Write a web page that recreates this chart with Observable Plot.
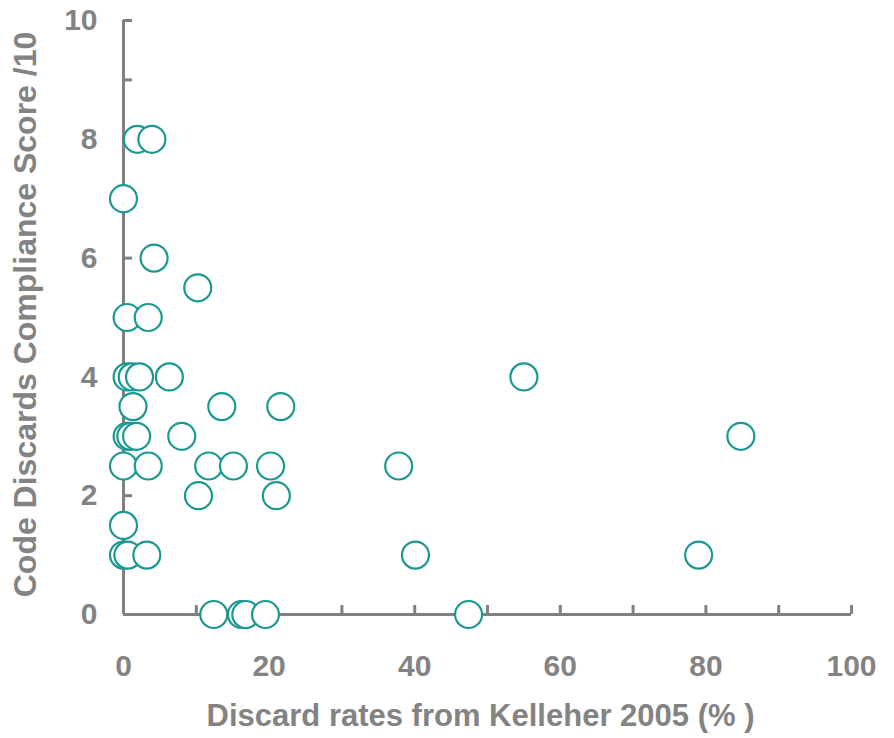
<!DOCTYPE html>
<html>
<head>
<meta charset="utf-8">
<script src="https://cdn.jsdelivr.net/npm/d3@7"></script>
<script src="https://cdn.jsdelivr.net/npm/@observablehq/plot@0.6"></script>
<style>
  html, body { margin: 0; padding: 0; background: #fff; }
</style>
</head>
<body>
<div id="chart"></div>
<script>
// Discard rate (%) vs. code compliance score, one entry per fishery
const discardRate = [
  1.9, 3.9,
  0,
  4.2,
  10.2,
  0.5, 3.4,
  0.5, 1.2, 2.2, 6.3, 55.0,
  1.3, 13.5, 21.6,
  0.5, 1.0, 1.8, 8.0, 84.8,
  0, 3.4, 11.7, 15.1, 20.2, 37.8,
  10.3, 21.0,
  0,
  0, 0.6, 3.2, 40.1, 79.0,
  12.4, 16.2, 16.8, 19.5, 47.4
];
const complianceScore = [
  8, 8,
  7,
  6,
  5.5,
  5, 5,
  4, 4, 4, 4, 4,
  3.5, 3.5, 3.5,
  3, 3, 3, 3, 3,
  2.5, 2.5, 2.5, 2.5, 2.5, 2.5,
  2, 2,
  1.5,
  1, 1, 1, 1, 1,
  0, 0, 0, 0, 0
];

const xTicks = [0, 10, 20, 30, 40, 50, 60, 70, 80, 90, 100];
const xTickLabels = [0, 20, 40, 60, 80, 100];
const yTicks = [0, 1, 2, 3, 4, 5, 6, 7, 8, 9, 10];
const yTickLabels = [0, 2, 4, 6, 8, 10];

const xTitle = "Discard rates from Kelleher 2005 (% )";
const yTitle = "Code Discards Compliance Score /10";

const points = discardRate.map((x, i) => ({x, y: complianceScore[i]}));

const axisGray = "#808080";
const textGray = "#838383";
const teal = "#1b9892";

const chart = Plot.plot({
  width: 894,
  height: 738,
  marginLeft: 123,
  marginRight: 43,
  marginTop: 20,
  marginBottom: 124,
  style: {
    fontFamily: "'Liberation Sans', Arial, Helvetica, sans-serif",
    fontSize: "30px",
    fontWeight: "bold",
    color: textGray,
    background: "#fff"
  },
  x: {domain: [0, 100]},
  y: {domain: [0, 10]},
  marks: [
    // axis lines
    Plot.ruleX([0], {stroke: axisGray, strokeWidth: 3}),
    Plot.ruleY([0], {stroke: axisGray, strokeWidth: 3}),
    // inward tick marks
    Plot.ruleX(xTicks, {x: d => d, y1: 0, y2: 0, insetTop: -9, stroke: axisGray, strokeWidth: 3}),
    Plot.ruleY(yTicks, {y: d => d, x1: 0, x2: 0, insetRight: -9, stroke: axisGray, strokeWidth: 3}),
    // tick labels
    Plot.axisX({ticks: xTickLabels, tickSize: 0, tickPadding: 40, label: null}),
    Plot.axisY({ticks: yTickLabels, tickSize: 0, tickPadding: 26, label: null}),
    // axis titles
    Plot.text([xTitle], {
      frameAnchor: "bottom", textAnchor: "middle", lineAnchor: "middle",
      text: d => d, dy: 102, dx: -7, fontSize: 31, fill: textGray
    }),
    Plot.text([yTitle], {
      frameAnchor: "left", textAnchor: "middle", lineAnchor: "middle",
      text: d => d, rotate: -90, dx: -98, dy: -3, fontSize: 32, fill: textGray
    }),
    // data points
    Plot.dot(points, {x: "x", y: "y", r: 13.5, stroke: teal, strokeWidth: 2.2, fill: "white"})
  ]
});

document.getElementById("chart").appendChild(chart);
</script>
</body>
</html>
